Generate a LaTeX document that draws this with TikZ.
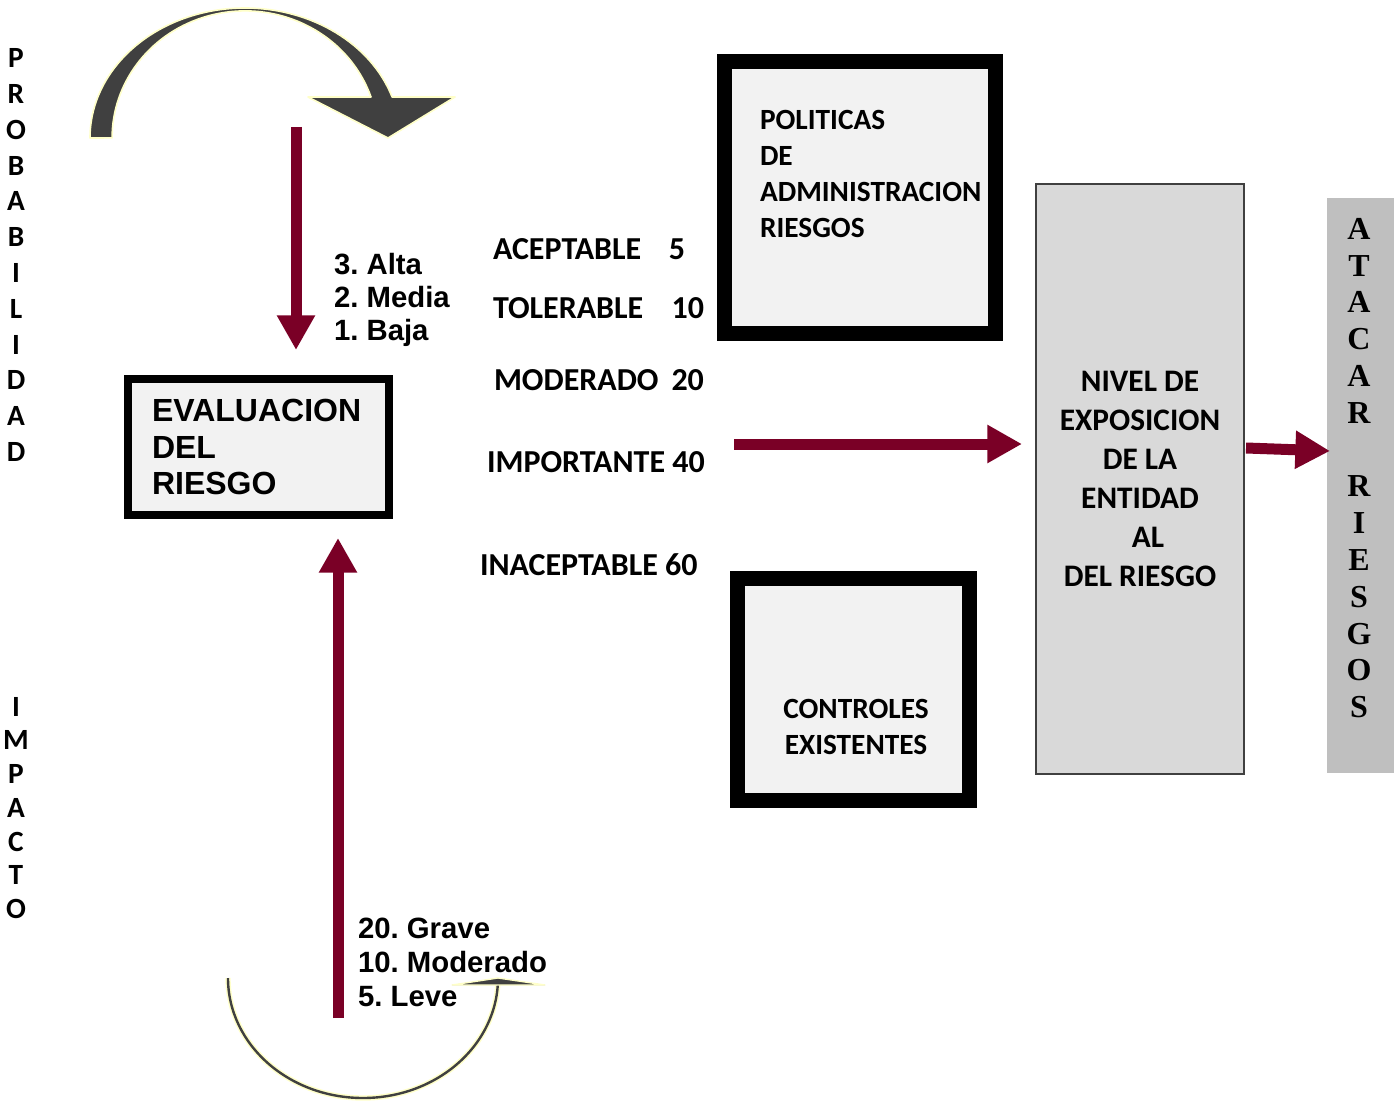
\documentclass[tikz,border=0pt]{standalone}
\usepackage{fontspec}
\newfontfamily\calfont{Carlito}
\newfontfamily\arfont{Liberation Sans}
\newfontfamily\tmfont{Liberation Serif}
\usetikzlibrary{arrows.meta}
\definecolor{wine}{RGB}{122,0,38}
\definecolor{boxgray}{RGB}{242,242,242}
\definecolor{nivgray}{RGB}{217,217,217}
\definecolor{bargray}{RGB}{191,191,191}
\definecolor{curvegray}{RGB}{64,64,64}
\definecolor{curveedge}{RGB}{255,255,200}
\frenchspacing
\begin{document}
\begin{tikzpicture}[x=0.75pt,y=-0.75pt,
  every node/.style={inner sep=0pt,outer sep=0pt},
  redarrow/.style={draw=wine,line width=8.25pt,-{Triangle[length=26pt,width=27pt]}},
  thickbox/.style={draw=black,line width=11.25pt,fill=boxgray},
  calA/.style={font={\calfont\bfseries\fontsize{22pt}{27pt}\selectfont}},
  calB/.style={font={\calfont\bfseries\fontsize{24pt}{28pt}\selectfont}},
  arA/.style={font={\arfont\bfseries\fontsize{22pt}{25pt}\selectfont}},
]
\useasboundingbox (0,0) rectangle (1394,1105);

% top curved arrow
\path[fill=curvegray,draw=curveedge,line width=1.2pt,line join=round]
  (90,138) arc[start angle=180,end angle=341.6,x radius=155,y radius=130]
  -- (455,97) -- (388,138) -- (308,97) -- (371,97)
  arc[start angle=341.2,end angle=180,x radius=133,y radius=127] -- cycle;

% bottom curved arrow
\draw[curveedge,line width=4pt] (228,978) arc[start angle=180,end angle=0,x radius=135,y radius=120];
\draw[curvegray,line width=1.8pt] (228,978) arc[start angle=180,end angle=0,x radius=135,y radius=120];
\path[fill=curvegray,draw=curveedge,line width=1pt,line join=round] (452,985) -- (498,978) -- (545,985) -- cycle;

% left vertical words
\node[font={\calfont\bfseries\fontsize{22pt}{26.85pt}\selectfont},align=center] (prob) at (16,255)
  {P\\R\\O\\B\\A\\B\\I\\L\\I\\D\\A\\D};
\node[font={\calfont\bfseries\fontsize{22pt}{25.3pt}\selectfont},align=center] (imp) at (16,808)
  {I\\M\\P\\A\\C\\T\\O};

% evaluation box
\node[draw=black,line width=6pt,fill=boxgray,minimum width=195.75pt,minimum height=102pt,
  text width=159.75pt,align=left,font={\arfont\bfseries\fontsize{24pt}{27.4pt}\selectfont}]
  (eval) at (258.5,447) {EVALUACION\\DEL\\RIESGO};

% probability / impact scales
\node[arA,align=left,anchor=west] (probsc) at (334,300) {3. Alta\\2. Media\\1. Baja};
\node[font={\arfont\bfseries\fontsize{22pt}{25.5pt}\selectfont},align=left,anchor=west] (impsc) at (358,962)
  {20. Grave\\10. Moderado\\5. Leve};

% levels
\node[calB,anchor=west] (acep) at (493,249) {\hbox to 144pt{ACEPTABLE\hfil 5}};
\node[calB,anchor=west] (tole) at (493,308) {\hbox to 158.25pt{TOLERABLE\hfil 10}};
\node[calB,anchor=west] (mode) at (494,380) {\hbox to 157.5pt{MODERADO\hfil 20}};
\node[calB,anchor=west] (impo) at (487,462) {IMPORTANTE 40};
\node[calB,anchor=west] (inac) at (480,565) {INACEPTABLE 60};

% policies box
\node[thickbox,minimum width=203.25pt,minimum height=204pt] (pol) at (860,197.5) {};
\node[calA,align=left,anchor=west] (poltxt) at (760,174) {POLITICAS\\DE\\ADMINISTRACION\\RIESGOS};

% controls box
\node[thickbox,minimum width=174pt,minimum height=166.5pt] (ctrl) at (853.5,689.5) {};
\node[calA,align=center] (ctrltxt) at (856,727) {CONTROLES\\EXISTENTES};

% exposure box
\node[draw=curvegray,line width=1.5pt,fill=nivgray,minimum width=156pt,minimum height=442.5pt,
  align=center,font={\calfont\bfseries\fontsize{23.5pt}{29.25pt}\selectfont}]
  (nivel) at (1140,479) {NIVEL DE\\EXPOSICION\\DE LA\\ENTIDAD\\\hspace*{12pt}AL\\DEL RIESGO};

% attack bar
\node[fill=bargray,minimum width=50.25pt,minimum height=431.25pt] (bar) at (1360.5,485.5) {};
\node[font={\tmfont\bfseries\fontsize{24pt}{27.6pt}\selectfont},align=center] (bartxt) at (1359,468)
  {A\\T\\A\\C\\A\\R\\[27.6pt]R\\I\\E\\S\\G\\O\\S};

% arrows
\coordinate (a1s) at (296,127); \coordinate (a1e) at (296,350);
\coordinate (a2s) at (338,1018); \coordinate (a2e) at (338,538);
\coordinate (a3s) at (734,444); \coordinate (a3e) at (1022,444);
\coordinate (a4s) at (1246,448); \coordinate (a4e) at (1330,451);
\draw[redarrow] (a1s) -- (a1e);
\draw[redarrow] (a2s) -- (a2e);
\draw[redarrow] (a3s) -- (a3e);
\draw[redarrow] (a4s) -- (a4e);
\end{tikzpicture}
\end{document}
